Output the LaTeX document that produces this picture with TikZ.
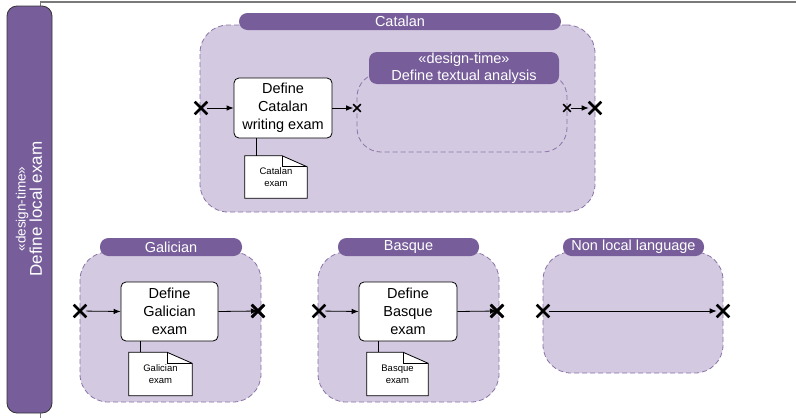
\documentclass[tikz,border=0pt]{standalone}
\usepackage{fontspec}
\setmainfont{Liberation Sans}
\usetikzlibrary{arrows.meta,shapes.misc,calc}
\definecolor{hdr}{HTML}{775E9A}
\definecolor{regfill}{HTML}{D3C9E1}
\definecolor{regline}{HTML}{8A74A8}
\definecolor{framecol}{HTML}{7A7A7A}
\tikzset{
  region/.style={draw=regline, dashed, dash pattern=on 5pt off 3pt, fill=regfill,
    line width=0.8pt, rounded corners=28pt, inner sep=0pt},
  header/.style={fill=hdr, text=white, rounded corners=8.5pt, inner sep=0pt,
    font=\fontsize{14.5}{17}\selectfont, align=center},
  task/.style={draw=black, fill=white, rounded corners=5pt, line width=0.8pt,
    inner sep=0pt, align=center, font=\fontsize{14.5}{18}\selectfont},
  docnode/.style={inner sep=0pt, align=center, font=\fontsize{9.5}{12}\selectfont},
  docshape/.style={draw=black, fill=white, line width=0.8pt},
  bigx/.style={cross out, draw=black, line width=2.6pt, minimum size=10pt, inner sep=0pt},
  smallx/.style={cross out, draw=black, line width=1.6pt, minimum size=6pt, inner sep=0pt},
  flow/.style={draw=black, line width=0.8pt, -{Latex[length=7pt,width=5.5pt]}},
  tie/.style={draw=black, line width=0.8pt},
}
\begin{document}
\begin{tikzpicture}[x=1pt,y=-1pt]
\useasboundingbox (0,0) rectangle (796,418);

% outer frame edge
\draw[framecol, line width=1.3pt] (40.5,418) -- (40.5,2) -- (796,2);

% left lane header
\node[draw=black!80, fill=hdr, rounded corners=10pt, line width=0.8pt,
  minimum width=45pt, minimum height=407pt, inner sep=0pt] (lane) at (29.5,209.5) {};
\node[text=white, rotate=90, align=center, inner sep=0pt] (lanelabel) at (29,209)
  {{\fontsize{13.5}{18}\selectfont «design-time»}\\{\fontsize{17}{18}\selectfont Define local exam}};

% ---------------- Catalan ----------------
\node[region, minimum width=395pt, minimum height=187pt] (catreg) at (397.5,118.5) {};
\node[header, minimum width=322pt, minimum height=17pt] (cathdr) at (400,21.5) {Catalan};

\node[region, rounded corners=24pt, minimum width=210pt, minimum height=79pt] (txtreg) at (462,112.5) {};
\node[header, rounded corners=8pt, minimum width=190pt, minimum height=32pt] (txthdr) at (464,68)
  {«design-time»\\Define textual analysis};

\node[task, minimum width=98pt, minimum height=60pt] (cattask) at (283,108) {Define\\Catalan\\writing exam};
\node[docnode, minimum width=62pt, minimum height=42pt] (catdoc) at (276,177) {};

\node[bigx] (catin) at (201,108) {};
\node[bigx] (catout) at (595,108) {};
\node[smallx] (txtin) at (357,108) {};
\node[smallx] (txtout) at (567,108) {};

\draw[flow] (catin) -- (cattask.west);
\draw[flow] (cattask.east) -- (txtin);
\draw[flow] (txtout) -- (catout);

% ---------------- Galician ----------------
\node[region, minimum width=181pt, minimum height=150pt] (galreg) at (170.5,327) {};
\node[header, minimum width=142pt, minimum height=18pt] (galhdr) at (171,247) {Galician};
\node[task, minimum width=97pt, minimum height=59pt] (galtask) at (169.5,311.5) {Define\\Galician\\exam};
\node[docnode, minimum width=63pt, minimum height=43pt] (galdoc) at (160.5,374) {};
\node[bigx] (galin) at (80,311) {};
\node[bigx] (galout) at (258,311) {};
\draw[flow] (galin) -- (galtask.west);
\draw[flow] (galtask.east) -- (galout.center);
\node[bigx] at (galout) {};

% ---------------- Basque ----------------
\node[region, minimum width=181pt, minimum height=150pt] (basreg) at (408.5,327) {};
\node[header, minimum width=141pt, minimum height=18pt] (bashdr) at (408.5,247) {Basque};
\node[task, minimum width=98pt, minimum height=59pt] (bastask) at (408,311.5) {Define\\Basque\\exam};
\node[docnode, minimum width=61pt, minimum height=43pt] (basdoc) at (397.5,374) {};
\node[bigx] (basin) at (319,311) {};
\node[bigx] (basout) at (497,311) {};
\draw[flow] (basin) -- (bastask.west);
\draw[flow] (bastask.east) -- (basout.center);
\node[bigx] at (basout) {};

% ---------------- Non local language ----------------
\node[region, minimum width=180pt, minimum height=121pt] (nonreg) at (633,312.5) {};
\node[header, minimum width=141pt, minimum height=18pt] (nonhdr) at (633.5,247) {Non local language};
\node[bigx] (nonin) at (543,311) {};
\node[bigx] (nonout) at (723,311) {};
\draw[flow] (nonin) -- (nonout);

% artefact notes with folded corner, tied to their tasks
\foreach \d/\t in {catdoc/cattask, galdoc/galtask, basdoc/bastask}{
  \draw[docshape] (\d.north west) -- ($(\d.north east)+(-25,0)$) -- ($(\d.north east)+(0,11)$)
    -- (\d.south east) -- (\d.south west) -- cycle;
  \draw[tie] ($(\d.north east)+(-25,0)$) -- ($(\d.north east)+(-25,11)$) -- ($(\d.north east)+(0,11)$);
  \coordinate (\d-tie) at ($(\d.north west)+(12,0)$);
  \draw[tie] (\d-tie) -- (\d-tie |- \t.south);
}
\node[docnode] (catdoctext) at (catdoc) {Catalan\\exam};
\node[docnode] (galdoctext) at (galdoc) {Galician\\exam};
\node[docnode] (basdoctext) at (basdoc) {Basque\\exam};
\end{tikzpicture}
\end{document}
